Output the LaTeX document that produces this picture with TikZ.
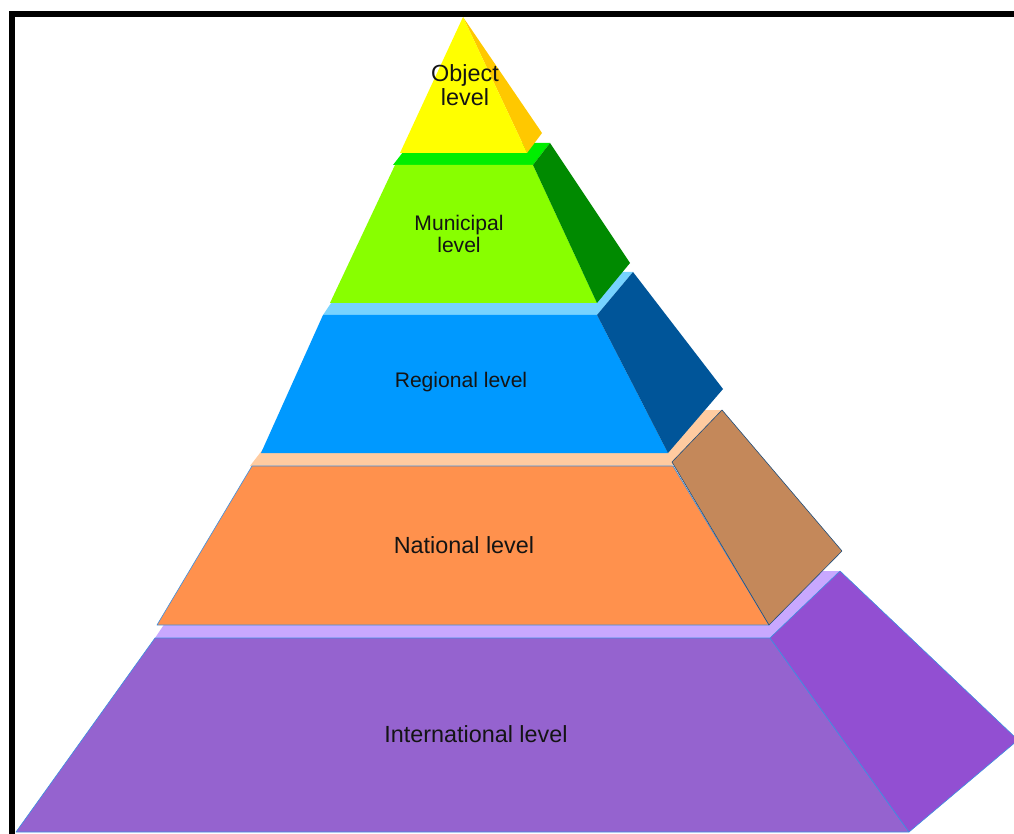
\documentclass[tikz,border=0pt]{standalone}
\usepackage{fontspec}
\setmainfont{Liberation Sans}
\definecolor{yelF}{HTML}{FFFF00}
\definecolor{yelS}{HTML}{FFC800}
\definecolor{grnT}{HTML}{00EE00}
\definecolor{grnF}{HTML}{88FF00}
\definecolor{grnS}{HTML}{008A00}
\definecolor{bluT}{HTML}{77D3FF}
\definecolor{bluF}{HTML}{0099FF}
\definecolor{bluS}{HTML}{005599}
\definecolor{orgT}{HTML}{FFCBA0}
\definecolor{orgF}{HTML}{FF914D}
\definecolor{orgS}{HTML}{C4885A}
\definecolor{prpT}{HTML}{C8A8FF}
\definecolor{prpF}{HTML}{9563CF}
\definecolor{prpS}{HTML}{924FD2}
\definecolor{rim}{HTML}{3D8FE0}
\tikzset{
  face/.style    ={line join=round},
  plain/.style   ={face, draw=none},
  rimmed/.style  ={face, draw=rim, line width=0.35pt},
  frame/.style   ={fill=black, draw=none},
  lbl/.style     ={font=\fontsize{13.3}{13.6}\selectfont, align=center,
                   text=black!92, inner sep=0pt},
  lblsmall/.style={lbl, font=\fontsize{12}{12.2}\selectfont},
}

\begin{document}
\begin{tikzpicture}[x=0.02cm, y=-0.02cm]
\useasboundingbox (0,0) rectangle (1014,834);
\clip (0,0) rectangle (1014,834);

% --- international level ---
\fill[plain, prpT] (155,638) -- (770,638) -- (840,571) -- (200,571) -- cycle;
\filldraw[rimmed, fill=prpF] (155,638) -- (770,638) -- (909,832) -- (16,832) -- cycle;
\filldraw[rimmed, fill=prpS] (770,638) -- (840,571) -- (1018,740) -- (909,832) -- cycle;

% --- national level ---
\fill[plain, orgT] (250,466) -- (672,466) -- (722,410) -- (293,410) -- cycle;
\filldraw[rimmed, fill=orgF] (252,466) -- (673,466) -- (769,625) -- (157,625) -- cycle;
\filldraw[rimmed, draw=black!45!rim, fill=orgS] (672,462) -- (722,410) -- (842,551) -- (769,625) -- cycle;

% --- regional level ---
\fill[plain, bluT] (323,315) -- (597,315) -- (633,272) -- (352,272) -- cycle;
\fill[plain, bluF] (323,315) -- (597,315) -- (668,453) -- (261,453) -- cycle;
\fill[plain, bluS] (597,315) -- (633,272) -- (723,389) -- (668,453) -- cycle;

% --- municipal level ---
\fill[plain, grnT] (393,165) -- (533,165) -- (550,143) -- (410,143) -- cycle;
\fill[plain, grnF] (395,165) -- (533,165) -- (597,303) -- (330,303) -- cycle;
\fill[plain, grnS] (533,165) -- (550,143) -- (630,263) -- (597,303) -- cycle;

% --- object level ---
\fill[plain, yelS] (463,17) -- (542,133) -- (527,153) -- cycle;
\fill[plain, yelF] (463,17) -- (527,153) -- (400,153) -- cycle;

% --- frame ---
\fill[frame] (9,11) rectangle (15,834);
\fill[frame] (9,11) rectangle (1014,17);

% --- labels ---
\node[lbl] (lblObject) at (465,85) {Object\\level};
\node[lblsmall] (lblMunicipal) at (459,234) {Municipal\\level};
\node[lblsmall] (lblRegional) at (461,382) {Regional level};
\node[lbl] (lblNational) at (464,545) {National level};
\node[lbl] (lblInternational) at (476,734) {International level};

\end{tikzpicture}
\end{document}
